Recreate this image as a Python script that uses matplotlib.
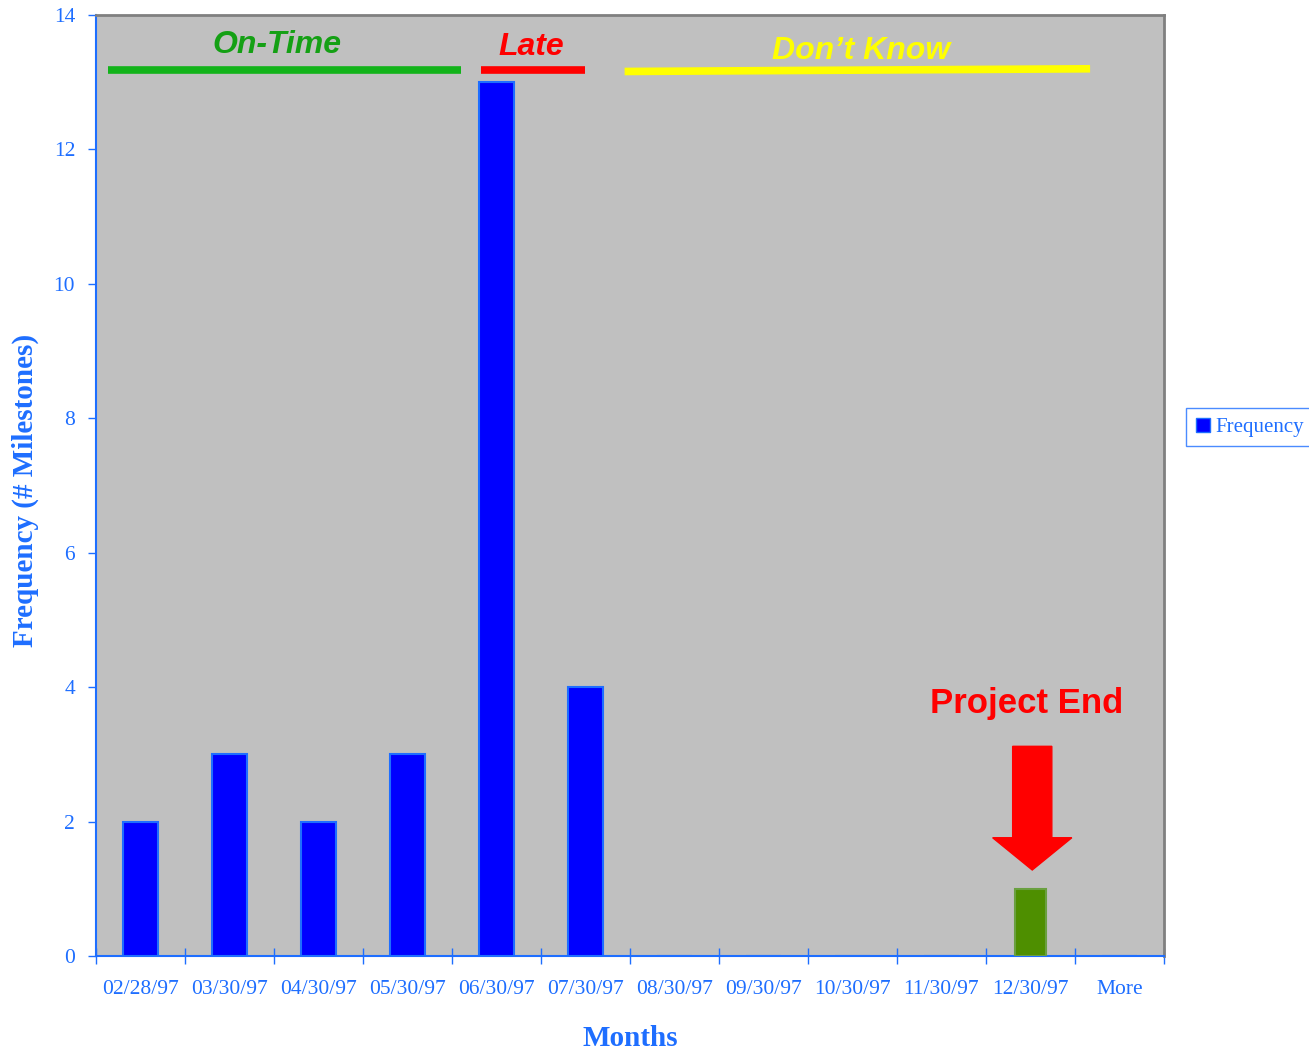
import numpy as np
import matplotlib
matplotlib.use("Agg")
import matplotlib.pyplot as plt
from matplotlib.lines import Line2D

# data
months = ["02/28/97", "03/30/97", "04/30/97", "05/30/97", "06/30/97", "07/30/97",
          "08/30/97", "09/30/97", "10/30/97", "11/30/97", "12/30/97", "More"]
frequency = [2, 3, 2, 3, 13, 4, 0, 0, 0, 0, 1, 0]
bar_colors = ["#0000FF"] * 10 + ["#4E8F00", "#0000FF"]
bar_edges = ["#1E6EFF"] * 10 + ["#6AA040", "#1E6EFF"]
bar_widths = [0.4] * 10 + [0.35, 0.4]

# status bands along the top: label, x start, x end, y start, y end, colour
band_labels = ["On-Time", "Late", "Don\u2019t Know"]
band_x0 = [-0.37, 3.83, 5.44]
band_x1 = [3.60, 4.99, 10.67]
band_y0 = [13.18, 13.18, 13.16]
band_y1 = [13.18, 13.18, 13.20]
band_line_colors = ["#12B31A", "#FF0000", "#FFFF00"]
band_text_colors = ["#14A014", "#FF0000", "#FFFF00"]
band_text_x = [1.53, 4.39, 8.10]
band_text_y = [13.56, 13.52, 13.46]

blue = "#1E6EFF"
serif = ["Liberation Serif", "DejaVu Serif"]
sans = ["Liberation Sans", "DejaVu Sans"]

fig = plt.figure(figsize=(13.09, 10.5), dpi=100)
ax = fig.add_axes([0.0733, 0.0895, 0.8159, 0.8962])
ax.set_facecolor("#C0C0C0")

x = np.arange(len(months))
ax.bar(x, frequency, width=bar_widths, color=bar_colors, edgecolor=bar_edges,
       linewidth=1.5, zorder=3)

ax.set_xlim(-0.5, len(months) - 0.5)
ax.set_ylim(0, 14)

# labels at category centres, tick marks between categories
ax.set_xticks(x)
ax.set_xticklabels(months, family=serif, fontsize=15.5, color=blue)
ax.tick_params(axis="x", which="major", length=0, pad=17)
ax.set_xticks(np.arange(-0.5, len(months)), minor=True)
ax.tick_params(axis="x", which="minor", direction="inout", length=12, color=blue, width=1)

ax.set_yticks(np.arange(0, 15, 2))
ax.set_yticklabels([str(v) for v in range(0, 15, 2)], family=serif, fontsize=15.5, color=blue)
ax.tick_params(axis="y", direction="out", length=6, color=blue, width=1, pad=9)

for s in ["left", "bottom"]:
    ax.spines[s].set_color(blue)
    ax.spines[s].set_linewidth(1.5)
for s in ["top", "right"]:
    ax.spines[s].set_color("#808080")
    ax.spines[s].set_linewidth(2)

ax.set_xlabel("Months", family=serif, fontsize=21, fontweight="bold", color=blue, labelpad=19)
ax.set_ylabel("Frequency (# Milestones)", family=serif, fontsize=21, fontweight="bold",
              color=blue, va="center")
ax.yaxis.set_label_coords(-0.0665, 0.495)

# bands
for i in range(len(band_labels)):
    ax.plot([band_x0[i], band_x1[i]], [band_y0[i], band_y1[i]], color=band_line_colors[i],
            linewidth=5.5, solid_capstyle="butt", zorder=4)
    ax.text(band_text_x[i], band_text_y[i], band_labels[i], color=band_text_colors[i],
            family=sans, fontsize=23, fontweight="bold",
            style="italic", ha="center", va="center", zorder=4)

# project end marker
ax.text(9.96, 3.76, "Project End", color="#FF0000", family=sans,
        fontsize=25, fontweight="bold", ha="center", va="center", zorder=4)
ax.arrow(10.02, 3.12, 0, -1.84, width=0.44, head_width=0.89, head_length=0.48,
         length_includes_head=True, color="#FF0000", zorder=4)

# legend
handle = Line2D([], [], linestyle="none", marker="s", markersize=10,
                markerfacecolor="#0000FF", markeredgecolor=blue)
leg = fig.legend([handle], ["Frequency"], loc="upper left", bbox_to_anchor=(0.906, 0.6114),
                 frameon=True, fancybox=False, borderpad=0.45, handletextpad=0.25,
                 handlelength=0.7, borderaxespad=0,
                 prop={"family": serif, "size": 15})
leg.get_frame().set_edgecolor(blue)
leg.get_frame().set_linewidth(1)
for t in leg.get_texts():
    t.set_color(blue)

fig.savefig("out.png", dpi=100)
